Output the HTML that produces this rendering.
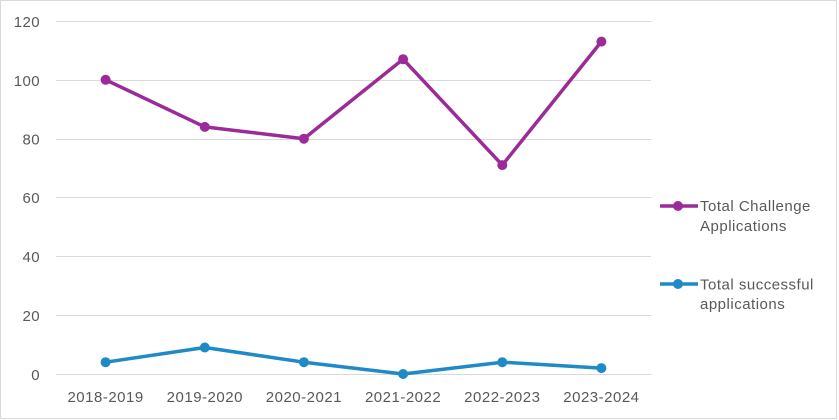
<!DOCTYPE html>
<html>
<head>
<meta charset="utf-8">
<style>
  html,body{margin:0;padding:0;background:#fff;}
  svg{display:block;}
  text{font-family:"Liberation Sans", sans-serif;fill:#595959;}
</style>
</head>
<body>
<svg width="839" height="420" viewBox="0 0 839 420" xmlns="http://www.w3.org/2000/svg">
  <rect x="0" y="0" width="839" height="420" fill="#fff"/>
  <rect x="0.5" y="0.5" width="836" height="418" fill="none" stroke="#d9d9d9" stroke-width="1"/>
  <!-- gridlines -->
  <g stroke="#d9d9d9" stroke-width="1">
    <line x1="56" y1="21.5" x2="651" y2="21.5"/>
    <line x1="56" y1="80.5" x2="651" y2="80.5"/>
    <line x1="56" y1="139.5" x2="651" y2="139.5"/>
    <line x1="56" y1="197.5" x2="651" y2="197.5"/>
    <line x1="56" y1="256.5" x2="651" y2="256.5"/>
    <line x1="56" y1="315.5" x2="651" y2="315.5"/>
    <line x1="56" y1="374.5" x2="651" y2="374.5"/>
  </g>
  <!-- y labels -->
  <g font-size="15" text-anchor="end" letter-spacing="0.4">
    <text x="40" y="27">120</text>
    <text x="40" y="86">100</text>
    <text x="40" y="144.5">80</text>
    <text x="40" y="203">60</text>
    <text x="40" y="262">40</text>
    <text x="40" y="321">20</text>
    <text x="40" y="380">0</text>
  </g>
  <!-- x labels -->
  <g font-size="15" text-anchor="middle" letter-spacing="0.5">
    <text x="105.6" y="402">2018-2019</text>
    <text x="204.8" y="402">2019-2020</text>
    <text x="303.9" y="402">2020-2021</text>
    <text x="403.1" y="402">2021-2022</text>
    <text x="502.3" y="402">2022-2023</text>
    <text x="601.4" y="402">2023-2024</text>
  </g>
  <!-- purple series -->
  <polyline fill="none" stroke="#9B2B99" stroke-width="3.5" stroke-linejoin="round"
    points="105.6,79.8 204.8,126.9 303.9,138.7 403.1,59.2 502.3,165.1 601.4,41.6"/>
  <g fill="#9B2B99">
    <circle cx="105.6" cy="79.8" r="5"/>
    <circle cx="204.8" cy="126.9" r="5"/>
    <circle cx="303.9" cy="138.7" r="5"/>
    <circle cx="403.1" cy="59.2" r="5"/>
    <circle cx="502.3" cy="165.1" r="5"/>
    <circle cx="601.4" cy="41.6" r="5"/>
  </g>
  <!-- blue series -->
  <polyline fill="none" stroke="#1F8AC5" stroke-width="3.5" stroke-linejoin="round"
    points="105.6,362.2 204.8,347.5 303.9,362.2 403.1,374 502.3,362.2 601.4,368.1"/>
  <g fill="#1F8AC5">
    <circle cx="105.6" cy="362.2" r="5"/>
    <circle cx="204.8" cy="347.5" r="5"/>
    <circle cx="303.9" cy="362.2" r="5"/>
    <circle cx="403.1" cy="374" r="5"/>
    <circle cx="502.3" cy="362.2" r="5"/>
    <circle cx="601.4" cy="368.1" r="5"/>
  </g>
  <!-- legend -->
  <line x1="660" y1="206" x2="698" y2="206" stroke="#9B2B99" stroke-width="3.5"/>
  <circle cx="678" cy="206" r="5" fill="#9B2B99"/>
  <g font-size="15" letter-spacing="0.5">
    <text x="700" y="211">Total Challenge</text>
    <text x="700" y="231">Applications</text>
  </g>
  <line x1="660" y1="284" x2="698" y2="284" stroke="#1F8AC5" stroke-width="3.5"/>
  <circle cx="678" cy="284" r="5" fill="#1F8AC5"/>
  <g font-size="15" letter-spacing="0.5">
    <text x="700" y="289.5">Total successful</text>
    <text x="700" y="309">applications</text>
  </g>
</svg>
</body>
</html>
